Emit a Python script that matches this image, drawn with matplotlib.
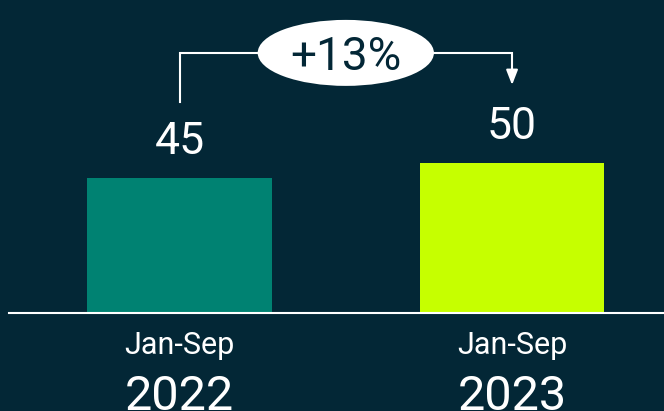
"""Jan-Sep year-on-year comparison, two bars with growth callout."""

import matplotlib.pyplot as plt
from matplotlib.patches import Ellipse

BG = "#032736"

periods = ["Jan-Sep", "Jan-Sep"]
years = ["2022", "2023"]
values = [45, 50]
bar_colors = ["#008272", "#c6ff00"]
change_label = "+13%"

plt.rcParams["font.family"] = ["Roboto", "DejaVu Sans"]

fig = plt.figure(figsize=(6.64, 4.11), dpi=100, facecolor=BG)
ax = fig.add_axes([0, 0, 1, 1])
ax.set_facecolor(BG)

x = list(range(len(values)))
ax.bar(x, values, width=0.556, color=bar_colors, zorder=2)

# baseline
ax.axhline(0, xmin=0.014, xmax=1, color="white", lw=1.5, zorder=3)

for xi, v in zip(x, values):
    ax.text(xi, v + 8, f"{v}", ha="center", va="baseline",
            color="white", fontsize=32)

for xi, p, yr in zip(x, periods, years):
    ax.text(xi, -13.7, p, ha="center", va="baseline",
            color="white", fontsize=22)
    ax.text(xi, -32.3, yr, ha="center", va="baseline",
            color="white", fontsize=35)

# growth bracket
top = max(values) + 36.7
x0, x1 = x[0], x[1]
ax.plot([x0, x0, x1, x1], [values[0] + 25.3, top, top, values[1] + 31],
        color="white", lw=1.5, solid_joinstyle="miter", zorder=3)
ax.annotate("", xy=(x1, values[1] + 26), xytext=(x1, values[1] + 31.5),
            arrowprops=dict(arrowstyle="-|>,head_width=0.35,head_length=0.9",
                            color="white", lw=1.5, shrinkA=0, shrinkB=0))
mid = (x0 + x1) / 2
ax.add_patch(Ellipse((mid, top), 0.53, 22, facecolor="white",
                     edgecolor="none", zorder=4))
ax.text(mid, top, change_label, ha="center", va="center_baseline",
        color=BG, fontsize=33, zorder=5)

ax.set_xlim(-0.54, 1.457)
ax.set_ylim(-32.67, 104.33)
ax.axis("off")

fig.savefig("out.png", dpi=100, facecolor=BG)
